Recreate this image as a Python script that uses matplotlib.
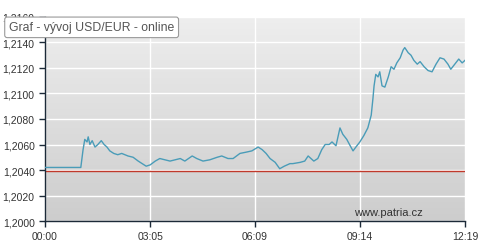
import numpy as np
import matplotlib
matplotlib.use("Agg")
import matplotlib.pyplot as plt
from matplotlib.colors import LinearSegmentedColormap

plt.rcParams["font.family"] = ["Liberation Sans", "DejaVu Sans"]

# čas v minutách od 00:00, kurz USD/EUR
minuty = [0, 63, 65, 67, 70, 74, 76, 79, 83, 88, 93, 99, 104, 109, 114, 121, 128,
          135, 146, 155, 164, 171, 178, 185, 194, 202, 211, 220, 229, 238, 246,
          259, 267, 278, 290, 303, 311, 322, 331, 343, 354, 364, 375, 382, 389,
          396, 405, 413, 421, 431, 436, 449, 457, 463, 468, 473, 480, 487, 493,
          500, 505, 512, 519, 524, 531, 537, 542, 547, 554, 561, 568, 574, 577,
          579, 582, 586, 589, 593, 598, 604, 609, 614, 619, 625, 630, 633, 639,
          644, 649, 655, 660, 667, 674, 681, 688, 695, 702, 709, 714, 721, 728,
          734, 739]
kurz = [1.2042, 1.2042, 1.2049, 1.2056, 1.2064, 1.2062, 1.2066, 1.2060, 1.2063,
        1.2058, 1.2060, 1.2063, 1.2060, 1.2058, 1.2055, 1.2053, 1.2052, 1.2053,
        1.2051, 1.2050, 1.2047, 1.2045, 1.2043, 1.2044, 1.2047, 1.2049, 1.2048,
        1.2047, 1.2048, 1.2049, 1.2047, 1.2051, 1.2049, 1.2047, 1.2048, 1.2050,
        1.2051, 1.2049, 1.2049, 1.2053, 1.2054, 1.2055, 1.2058, 1.2056, 1.2053,
        1.2049, 1.2046, 1.2041, 1.2043, 1.2045, 1.2045, 1.2046, 1.2047, 1.2051,
        1.2049, 1.2047, 1.2049, 1.2056, 1.2060, 1.2060, 1.2062, 1.2059, 1.2073,
        1.2068, 1.2064, 1.2059, 1.2055, 1.2058, 1.2062, 1.2067, 1.2073, 1.2083,
        1.2096, 1.2106, 1.2115, 1.2113, 1.2117, 1.2106, 1.2105, 1.2113, 1.2121,
        1.2119, 1.2124, 1.2128, 1.2134, 1.2136, 1.2132, 1.2130, 1.2126, 1.2123,
        1.2125, 1.2121, 1.2118, 1.2117, 1.2123, 1.2128, 1.2127, 1.2123, 1.2119,
        1.2123, 1.2127, 1.2124, 1.2126]
predchozi = 1.2039

x_ticky = [0, 185, 369, 554, 739]
x_popisky = ["00:00", "03:05", "06:09", "09:14", "12:19"]
y_ticky = [1.2000, 1.2020, 1.2040, 1.2060, 1.2080, 1.2100, 1.2120, 1.2140, 1.2160]

fig = plt.figure(figsize=(5, 2.53), dpi=100)
ax = fig.add_axes([0.09, 0.1225, 0.84, 0.8064])

# šedý gradient pozadí
cmap = LinearSegmentedColormap.from_list("bg", ["#cdcdcd", "#eeeeee"])
grad = np.linspace(0, 1, 256)[:, None]
ax.imshow(grad, extent=[0, 739, 1.2000, 1.2160], aspect="auto", cmap=cmap,
          origin="lower", zorder=-1)

ax.set_xlim(0, 739)
ax.set_ylim(1.2000, 1.2160)
ax.set_xticks(x_ticky)
ax.set_xticklabels(x_popisky)
ax.set_yticks(y_ticky)
ax.set_yticklabels([f"{v:.4f}".replace(".", ",") for v in y_ticky])
ax.grid(True, color="white", linewidth=1.0)
ax.set_axisbelow(True)

ax.axhline(predchozi, color="#c0392b", linewidth=1.0, zorder=2)
ax.plot(minuty, kurz, color="#4a9cb8", linewidth=1.0, zorder=3)

for s in ["top", "right"]:
    ax.spines[s].set_visible(False)
for s in ["left", "bottom"]:
    ax.spines[s].set_color("#1c2a38")
    ax.spines[s].set_linewidth(1.0)
ax.tick_params(axis="both", colors="#1c2a38", labelcolor="#333333",
               labelsize=7.5, length=4, width=1)

ax.text(0.90, 0.045, "www.patria.cz", transform=ax.transAxes, ha="right",
        va="center", fontsize=8, color="#333333")

# popisek grafu (překrývá horní popisek osy jako v originále)
fig.text(0.018, 0.888, "Graf - vývoj USD/EUR - online", fontsize=8.8,
         color="#555555", va="center", ha="left", zorder=10,
         bbox=dict(boxstyle="round,pad=0.35,rounding_size=0.2", fc="white",
                   ec="#9a9a9a", lw=0.8))

fig.savefig("out.png", dpi=100)
